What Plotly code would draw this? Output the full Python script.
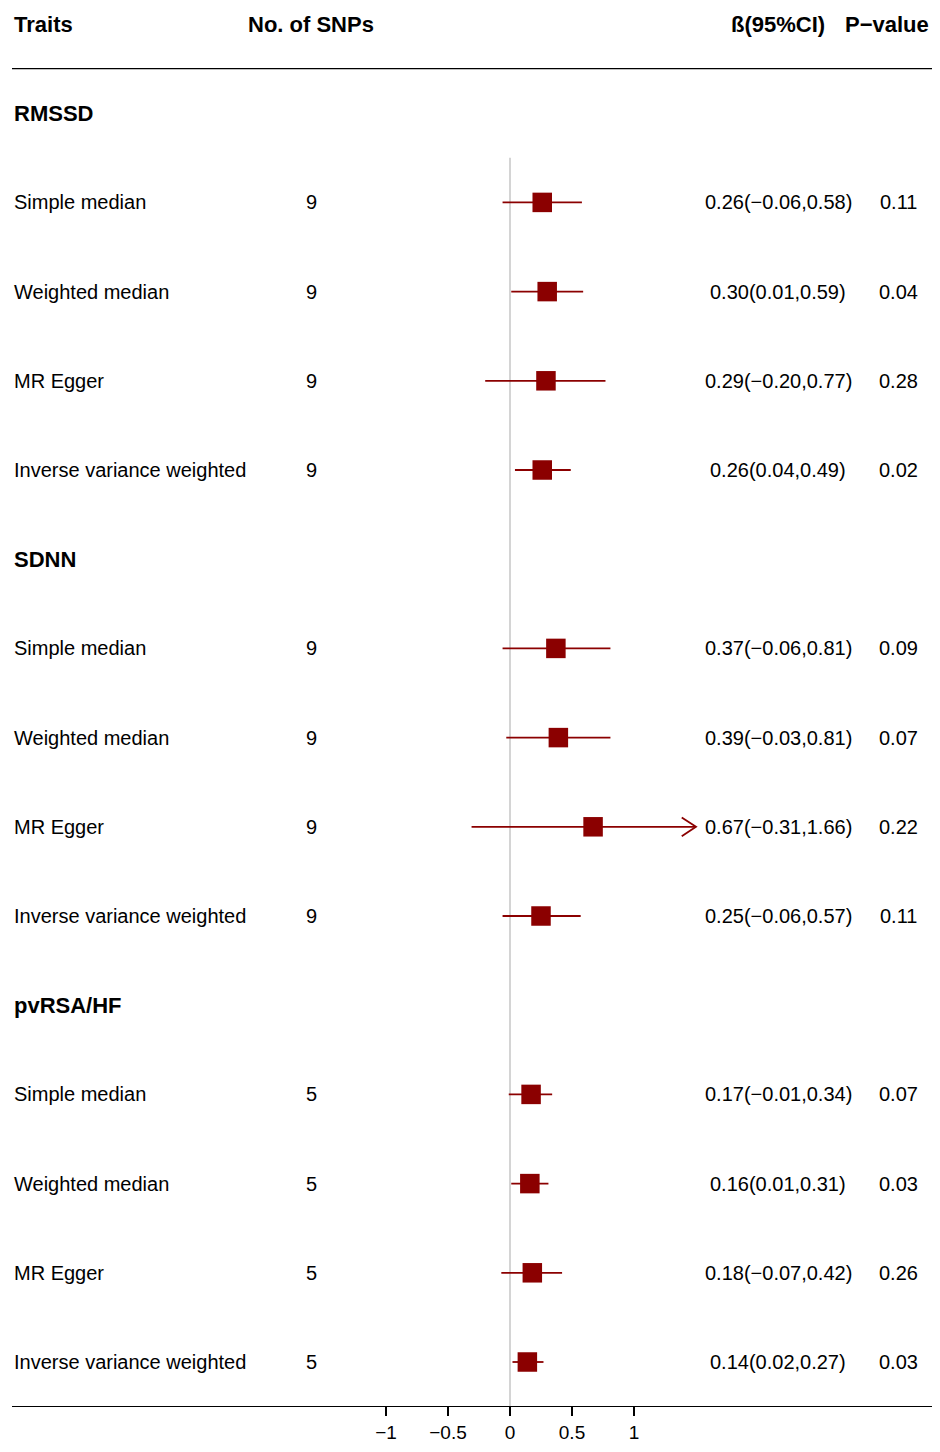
import plotly.graph_objects as go

# ---------------- data ----------------
groups = ["RMSSD", "SDNN", "pvRSA/HF"]
methods = ["Simple median", "Weighted median", "MR Egger", "Inverse variance weighted"]
n_snps = [9, 9, 5]
beta = [[0.26, 0.30, 0.29, 0.26],
        [0.37, 0.39, 0.67, 0.25],
        [0.17, 0.16, 0.18, 0.14]]
lower = [[-0.06, 0.01, -0.20, 0.04],
         [-0.06, -0.03, -0.31, -0.06],
         [-0.01, 0.01, -0.07, 0.02]]
upper = [[0.58, 0.59, 0.77, 0.49],
         [0.81, 0.81, 1.66, 0.57],
         [0.34, 0.31, 0.42, 0.27]]
pvals = [[0.11, 0.04, 0.28, 0.02],
         [0.09, 0.07, 0.22, 0.11],
         [0.07, 0.03, 0.26, 0.03]]
tick_vals = [-1, -0.5, 0, 0.5, 1]
tick_text = ["\u22121", "\u22120.5", "0", "0.5", "1"]
clip_max = 1.5

# ---------------- layout constants (page pixels) ----------------
OFF = 8                      # page body margin
W, H = 940 - 2 * OFF, 1452 - 2 * OFF
LEFT_PX, RIGHT_PX = 12, 932
ZERO_PX, UNIT_PX = 510, 124
AXIS_PX = 1406
ROW0_PX, ROW_STEP = 24, 89.2

ML, MR, MT = LEFT_PX - OFF, W + OFF - RIGHT_PX, 0
MB = H + OFF - AXIS_PX
X_LEFT = (LEFT_PX - ZERO_PX) / UNIT_PX
X_RIGHT = (RIGHT_PX - ZERO_PX) / UNIT_PX
Y_TOP = (OFF - ROW0_PX) / ROW_STEP
Y_BOT = (AXIS_PX - ROW0_PX) / ROW_STEP
RED = "#8B0000"
FONT = "Liberation Sans, Arial, sans-serif"
FS = 20
FS_B = 22
FS_TICK = 19


def px_to_x(px):
    return (px - ZERO_PX) / UNIT_PX


COL_TRAIT = px_to_x(12)
COL_N = px_to_x(311)
COL_CI = px_to_x(778)
COL_P = px_to_x(898)
COL_P_HEAD = px_to_x(931)


def fmt(v):
    s = f"{v:.2f}"
    return s.replace("-", "\u2212")


fig = go.Figure()
ann = []


def text(x, y, s, anchor="center", bold=False):
    ann.append(dict(x=x, y=y, xref="x", yref="y", text=f"<b>{s}</b>" if bold else s,
                    showarrow=False, xanchor=anchor, yanchor="middle",
                    font=dict(family=FONT, size=FS_B if bold else FS, color="black")))


# header
text(COL_TRAIT, 0, "Traits", "left", True)
text(COL_N, 0, "No. of SNPs", "center", True)
text(COL_CI, 0, "\u00df(95%CI)", "center", True)
text(COL_P_HEAD, 0, "P\u2212value", "right", True)

row = 1
for g, grp in enumerate(groups):
    text(COL_TRAIT, row, grp, "left", True)
    row += 1
    for m, meth in enumerate(methods):
        b, lo, hi, p = beta[g][m], lower[g][m], upper[g][m], pvals[g][m]
        text(COL_TRAIT, row, meth, "left")
        text(COL_N, row, str(n_snps[g]))
        text(COL_CI, row, f"{fmt(b)}({fmt(lo)},{fmt(hi)})")
        text(COL_P, row, f"{p:.2f}")
        hi_c = min(hi, clip_max)
        fig.add_trace(go.Scatter(x=[lo, hi_c], y=[row, row], mode="lines",
                                 line=dict(color=RED, width=1.8), hoverinfo="skip",
                                 showlegend=False))
        if hi > clip_max:
            fig.add_trace(go.Scatter(x=[hi_c - 0.115, hi_c, hi_c - 0.115],
                                     y=[row - 0.105, row, row + 0.105], mode="lines",
                                     line=dict(color=RED, width=1.8), hoverinfo="skip",
                                     showlegend=False))
        fig.add_trace(go.Scatter(x=[b], y=[row], mode="markers",
                                 marker=dict(symbol="square", size=19.5, color=RED,
                                             line=dict(width=0)),
                                 showlegend=False))
        row += 1

shapes = [
    dict(type="line", xref="paper", yref="y", x0=0, x1=1, y0=0.5, y1=0.5,
         line=dict(color="black", width=1.4)),
    dict(type="line", xref="x", yref="y", x0=0, x1=0, y0=1.5, y1=Y_BOT,
         line=dict(color="#d0d0d0", width=1.8), layer="below"),
]

fig.update_layout(
    width=W, height=H,
    margin=dict(l=ML, r=MR, t=MT, b=MB, autoexpand=False),
    paper_bgcolor="white", plot_bgcolor="white",
    annotations=ann, shapes=shapes,
    showlegend=False,
    xaxis=dict(range=[X_LEFT, X_RIGHT], showgrid=False, zeroline=False,
               automargin=False,
               showline=True, linecolor="black", linewidth=1.4,
               tickmode="array", tickvals=tick_vals, ticktext=tick_text,
               ticks="outside", ticklen=9, tickwidth=1.6, tickcolor="black",
               tickfont=dict(family=FONT, size=FS_TICK, color="black")),
    yaxis=dict(range=[Y_BOT, Y_TOP], visible=False, showgrid=False, zeroline=False,
               automargin=False),
)

fig.write_html("out.html")
